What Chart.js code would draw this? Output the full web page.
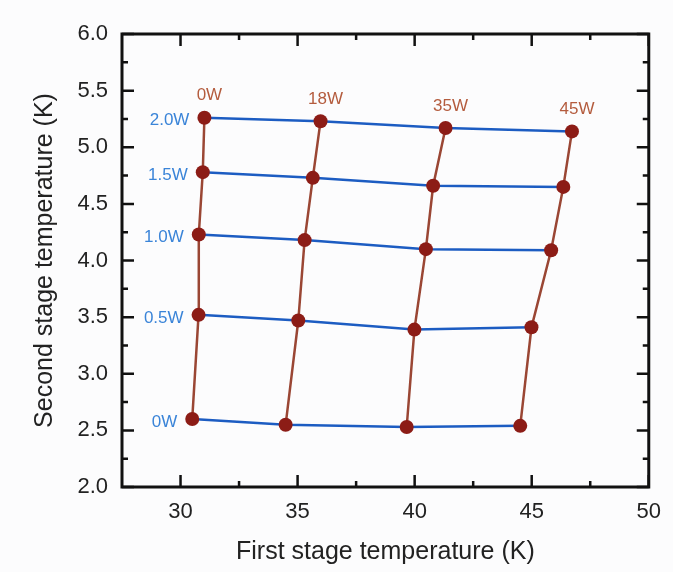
<!DOCTYPE html>
<html>
<head>
<meta charset="utf-8">
<script src="https://cdn.jsdelivr.net/npm/chart.js@4"></script>
<style>
  body { margin: 0; background: #fcfcfd; }
</style>
</head>
<body>
<canvas id="chart" width="673" height="572"></canvas>
<script>
// heat loads
const firstLoads = ['0W', '18W', '35W', '45W'];
const secondLoads = ['0W', '0.5W', '1.0W', '1.5W', '2.0W'];

// first stage temperature (K), one array per second stage load, columns follow firstLoads
const t1At0W = [30.50, 34.49, 39.66, 44.51];
const t1At05W = [30.77, 35.03, 39.99, 44.99];
const t1At10W = [30.78, 35.30, 40.48, 45.83];
const t1At15W = [30.95, 35.65, 40.79, 46.35];
const t1At20W = [31.02, 35.98, 41.32, 46.72];

// second stage temperature (K)
const t2At0W = [2.60, 2.55, 2.53, 2.54];
const t2At05W = [3.52, 3.47, 3.39, 3.41];
const t2At10W = [4.23, 4.18, 4.10, 4.09];
const t2At15W = [4.78, 4.73, 4.66, 4.65];
const t2At20W = [5.26, 5.23, 5.17, 5.14];

const xTicks = [30, 35, 40, 45, 50];
const yTicks = [2.0, 2.5, 3.0, 3.5, 4.0, 4.5, 5.0, 5.5, 6.0];

const t1Rows = [t1At0W, t1At05W, t1At10W, t1At15W, t1At20W];
const t2Rows = [t2At0W, t2At05W, t2At10W, t2At15W, t2At20W];

const BLUE = '#1c5cc2';
const BROWN = '#9a4634';
const FONT = '"Liberation Sans", Arial, sans-serif';

const datasets = [];

// brown lines: constant first stage load
firstLoads.forEach((load, c) => {
    datasets.push({
        label: 'first ' + load,
        kind: 'col',
        data: t1Rows.map((row, r) => ({ x: row[c], y: t2Rows[r][c] })),
        borderColor: BROWN,
        borderWidth: 2.5,
        pointRadius: 0,
        order: 3
    });
});

// blue lines with the points: constant second stage load
secondLoads.forEach((load, r) => {
    datasets.push({
        label: 'second ' + load,
        kind: 'row',
        data: t1Rows[r].map((x, c) => ({ x: x, y: t2Rows[r][c] })),
        borderColor: BLUE,
        borderWidth: 2.5,
        pointRadius: 7,
        pointBackgroundColor: '#8c1c16',
        pointBorderColor: '#8c1c16',
        pointBorderWidth: 0,
        order: 1
    });
});

// frame with inward ticks on all four sides
const frame = {
    id: 'frame',
    afterDraw(chart) {
        const { ctx, chartArea: a, scales } = chart;
        ctx.save();
        ctx.strokeStyle = '#111';
        ctx.lineWidth = 2.5;
        const mids = (arr) => arr.slice(1).map((v, i) => (v + arr[i]) / 2);
        const tickX = (vals, len) => vals.forEach(v => {
            const px = scales.x.getPixelForValue(v);
            ctx.beginPath();
            ctx.moveTo(px, a.bottom); ctx.lineTo(px, a.bottom - len);
            ctx.moveTo(px, a.top); ctx.lineTo(px, a.top + len);
            ctx.stroke();
        });
        const tickY = (vals, len) => vals.forEach(v => {
            const py = scales.y.getPixelForValue(v);
            ctx.beginPath();
            ctx.moveTo(a.left, py); ctx.lineTo(a.left + len, py);
            ctx.moveTo(a.right, py); ctx.lineTo(a.right - len, py);
            ctx.stroke();
        });
        tickX(xTicks, 12);
        tickX(mids(xTicks), 6);
        tickY(yTicks, 12);
        tickY(mids(yTicks), 6);
        ctx.lineWidth = 3;
        ctx.strokeRect(a.left, a.top, a.right - a.left, a.bottom - a.top);
        ctx.restore();
    }
};

// load labels next to the grid
const loadLabels = {
    id: 'loadLabels',
    afterDatasetsDraw(chart) {
        const { ctx } = chart;
        ctx.save();
        ctx.font = '17px ' + FONT;
        ctx.textBaseline = 'middle';
        chart.data.datasets.forEach((ds, i) => {
            const pts = chart.getDatasetMeta(i).data;
            if (ds.kind === 'row') {
                const p = pts[0];
                ctx.fillStyle = '#3a84d8';
                ctx.textAlign = 'right';
                ctx.fillText(secondLoads[i - firstLoads.length], p.x - 15, p.y + 3);
            } else {
                const p = pts[pts.length - 1];
                ctx.fillStyle = '#b45c3e';
                ctx.textAlign = 'center';
                ctx.fillText(firstLoads[i], p.x + 5, p.y - 22);
            }
        });
        ctx.restore();
    }
};

new Chart(document.getElementById('chart'), {
    type: 'line',
    data: { datasets: datasets },
    plugins: [frame, loadLabels],
    options: {
        responsive: false,
        animation: false,
        layout: { padding: { top: 34, right: 23, left: 0, bottom: 0 } },
        plugins: {
            legend: { display: false },
            tooltip: { enabled: false }
        },
        elements: { line: { tension: 0 } },
        scales: {
            x: {
                type: 'linear',
                min: 27.5,
                max: 50,
                afterBuildTicks: (s) => { s.ticks = xTicks.map(v => ({ value: v })); },
                afterFit: (s) => { s.height = 85; },
                grid: { display: false, drawTicks: false },
                border: { display: false },
                ticks: {
                    padding: 12,
                    color: '#222',
                    font: { family: FONT, size: 22 },
                    callback: (v) => String(v)
                },
                title: {
                    display: true,
                    text: 'First stage temperature (K)',
                    color: '#222',
                    font: { family: FONT, size: 25 },
                    padding: { top: 0, bottom: 5 }
                }
            },
            y: {
                type: 'linear',
                min: 2,
                max: 6,
                afterBuildTicks: (s) => { s.ticks = yTicks.map(v => ({ value: v })); },
                afterFit: (s) => { s.width = 122; },
                grid: { display: false, drawTicks: false },
                border: { display: false },
                ticks: {
                    padding: 14,
                    color: '#222',
                    font: { family: FONT, size: 22 },
                    callback: (v) => v.toFixed(1)
                },
                title: {
                    display: true,
                    text: 'Second stage temperature (K)',
                    color: '#222',
                    font: { family: FONT, size: 25 },
                    padding: { top: 30, bottom: 0 }
                }
            }
        }
    }
});
</script>
</body>
</html>
